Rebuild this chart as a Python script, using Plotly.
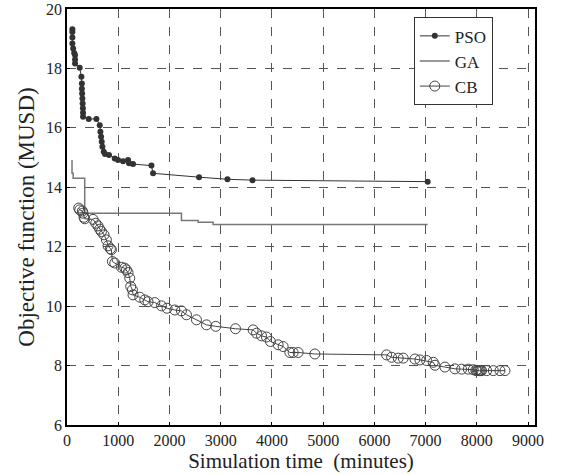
import plotly.graph_objects as go

pso_x = [105, 105, 105, 105, 120, 140, 157, 157, 157, 248, 281, 290, 290, 295, 300, 305, 310, 313, 313, 424,
         574, 639, 652, 665, 678, 691, 717, 742, 820, 932, 996, 1094, 1192, 1211, 1289, 1648, 1680, 2578, 3132, 3621, 7040]
pso_y = [19.32, 19.23, 19.04, 18.84, 18.67, 18.52, 18.45, 18.30, 18.17, 18.02, 17.72, 17.49, 17.32, 17.16, 16.99, 16.82,
         16.66, 16.51, 16.37, 16.30, 16.30, 16.09, 15.87, 15.70, 15.53, 15.36, 15.20, 15.12, 15.09, 14.97, 14.92, 14.88,
         14.92, 14.81, 14.78, 14.73, 14.47, 14.34, 14.27, 14.24, 14.19]

ga_x = [98, 120, 346, 2234, 2559, 2852, 7040]
ga_y = [14.92, 14.47, 14.30, 13.13, 12.88, 12.82, 12.75]

cb_x = [229, 248, 300, 313, 332, 346, 508, 561, 605, 639, 672, 723, 769, 801, 847, 867, 886, 932, 1062, 1127,
        1160, 1192, 1225, 1244, 1277, 1289, 1420, 1518, 1582, 1713, 1844, 1953, 2104, 2234, 2332, 2527, 2723, 2904,
        3289, 3633, 3699, 3797, 3894, 3972, 4121, 4219, 4350, 4414, 4512, 4838, 6238, 6336, 6465, 6563, 6791, 6889,
        7019, 7149, 7182, 7377, 7572, 7703, 7833, 7930, 7980, 8000, 8028, 8050, 8070, 8093, 8191, 8321, 8451, 8549]
cb_y = [13.30, 13.24, 13.20, 13.13, 12.99, 12.94, 12.92, 12.79, 12.70, 12.59, 12.51, 12.40, 12.23, 12.03, 11.93,
        11.90, 11.50, 11.45, 11.31, 11.28, 11.22, 11.13, 10.94, 10.66, 10.55, 10.38, 10.30, 10.21, 10.15, 10.12,
        10.01, 9.93, 9.87, 9.84, 9.71, 9.54, 9.37, 9.32, 9.24, 9.20, 9.09, 9.00, 8.96, 8.81, 8.70, 8.64, 8.44, 8.44,
        8.44, 8.39, 8.36, 8.28, 8.25, 8.25, 8.22, 8.19, 8.17, 8.11, 8.01, 7.95, 7.89, 7.88, 7.88, 7.86, 7.84, 7.83,
        7.83, 7.83, 7.83, 7.83, 7.83, 7.83, 7.83, 7.83]

x_ticks = [0, 1000, 2000, 3000, 4000, 5000, 6000, 7000, 8000, 9000]
y_ticks = [6, 8, 10, 12, 14, 16, 18, 20]

FONT = "Times New Roman, Liberation Serif, serif"

fig = go.Figure()
fig.add_trace(go.Scatter(x=pso_x, y=pso_y, name="PSO", mode="lines+markers",
                         line=dict(color="#333333", width=1),
                         marker=dict(symbol="circle", size=6, color="#333333")))
fig.add_trace(go.Scatter(x=ga_x, y=ga_y, name="GA", mode="lines", line_shape="vh",
                         line=dict(color="#777777", width=1.5)))
fig.add_trace(go.Scatter(x=cb_x, y=cb_y, name="CB", mode="lines+markers",
                         line=dict(color="#444444", width=1),
                         marker=dict(symbol="circle-open", size=10, color="#444444",
                                     line=dict(width=1, color="#444444"))))

axis_common = dict(showline=True, linecolor="black", linewidth=1.5, mirror=True,
                   showgrid=True, gridcolor="#555555", griddash="dash", gridwidth=1,
                   zeroline=False, ticks="inside", ticklen=3, tickcolor="black",
                   automargin=False,
                   tickfont=dict(family=FONT, size=16, color="#222222"))

fig.update_layout(
    width=563, height=475,
    margin=dict(l=67, r=28, t=9, b=50, autoexpand=False),
    paper_bgcolor="white", plot_bgcolor="white",
    font=dict(family=FONT, color="#222222"),
    xaxis=dict(range=[0, 9135], tickvals=x_ticks, ticktext=[str(v) for v in x_ticks],
               title=dict(text="Simulation time  (minutes)", font=dict(family=FONT, size=21), standoff=3),
               **axis_common),
    yaxis=dict(range=[6, 20], tickvals=y_ticks, ticktext=[str(v) for v in y_ticks],
               title=dict(text="Objective function (MUSD)", font=dict(family=FONT, size=23), standoff=5),
               **axis_common),
    legend=dict(x=0.741, y=0.98, xanchor="left", yanchor="top",
                bgcolor="white", bordercolor="#333333", borderwidth=1,
                font=dict(family=FONT, size=17, color="#222222"),
                tracegroupgap=0, itemwidth=30),
    showlegend=True,
)

fig.write_html("out.html", config={"displayModeBar": False},
               post_script="document.body.style.margin='0';")
